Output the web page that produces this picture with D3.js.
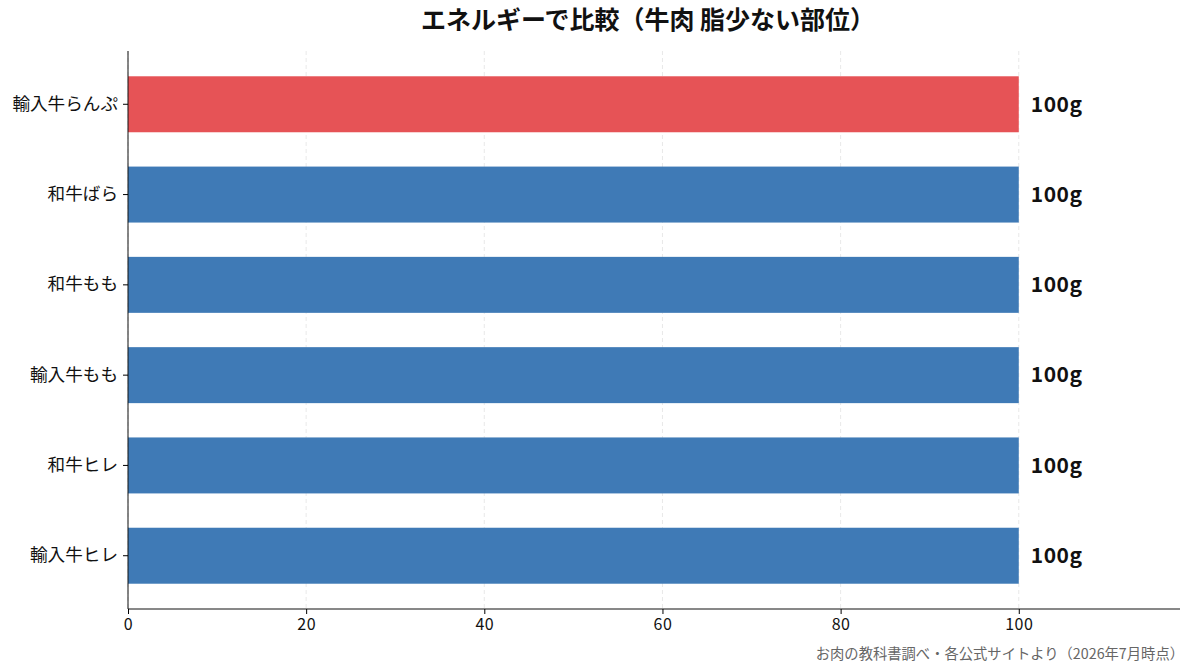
<!DOCTYPE html>
<html>
<head>
<meta charset="utf-8">
<script src="https://cdn.jsdelivr.net/npm/d3@7"></script>
<style>
  body { margin: 0; background: #fff; }
  svg { font-family: "Noto Sans CJK JP", "Noto Sans", sans-serif; }
</style>
</head>
<body>
<svg id="ch"></svg>
<script>
// エネルギー比較 横棒グラフ

const categories = ["輸入牛らんぷ", "和牛ばら", "和牛もも", "輸入牛もも", "和牛ヒレ", "輸入牛ヒレ"];
const values = [100, 100, 100, 100, 100, 100];
const labels = ["100g", "100g", "100g", "100g", "100g", "100g"];
const highlight = "輸入牛らんぷ";
const xTicks = [0, 20, 40, 60, 80, 100];

const width = 1193;
const height = 672;
const mLeft = 128, mRight = 1180, mTop = 51, mBottom = 609;

const svg = d3.select("#ch").attr("width", width).attr("height", height);

let x = d3.scaleLinear().domain([0, 118.1]).range([mLeft, mRight]);
let y = d3.scaleBand()
  .domain(categories)
  .range([mTop, mBottom])
  .paddingInner(0.38)
  .paddingOuter(0.28);

/* grid */
svg.append("g")
  .selectAll("line")
  .data(xTicks)
  .enter()
  .append("line")
  .attr("x1", d => x(d))
  .attr("x2", d => x(d))
  .attr("y1", mTop)
  .attr("y2", mBottom)
  .attr("stroke", "#e2e2e2")
  .attr("stroke-width", 0.8)
  .attr("stroke-dasharray", "4,3");

/* bars */
svg.append("g")
  .selectAll("rect")
  .data(categories)
  .enter()
  .append("rect")
  .attr("x", x(0))
  .attr("y", d => y(d))
  .attr("height", y.bandwidth())
  .attr("width", (d, i) => x(values[i]) - x(0))
  .style("fill", d => d === highlight ? "#e65356" : "#3f7ab6");

/* value labels */
svg.append("g")
  .selectAll("text")
  .data(categories)
  .enter()
  .append("text")
  .attr("x", (d, i) => x(values[i]) + 12)
  .attr("y", d => y(d) + y.bandwidth() / 2)
  .attr("dy", "0.35em")
  .style("font-size", "21px")
  .style("font-weight", "bold")
  .style("letter-spacing", "0.5px")
  .style("fill", "#111")
  .text((d, i) => labels[i]);

/* axes */
const xAxis = svg.append("g")
  .attr("transform", `translate(0,${mBottom})`)
  .call(d3.axisBottom(x).tickValues(xTicks).tickSize(5).tickPadding(5).tickSizeOuter(0));
xAxis.select(".domain").attr("d", `M${mLeft},0H${mRight}`).attr("stroke", "#111");
xAxis.selectAll("text").style("font-size", "16px").style("letter-spacing", "0.5px").style("fill", "#111").style("font-family", "Noto Sans CJK JP");

const yAxis = svg.append("g")
  .attr("transform", `translate(${mLeft},0)`)
  .call(d3.axisLeft(y).tickSize(5).tickPadding(5).tickSizeOuter(0));
yAxis.select(".domain").attr("d", `M0,${mTop}V${mBottom}`).attr("stroke", "#111");
yAxis.selectAll("text").style("font-size", "17.6px").style("fill", "#111").style("font-family", "Noto Sans CJK JP");

/* title */
svg.append("text")
  .attr("x", 648)
  .attr("y", 20)
  .attr("dy", "0.35em")
  .attr("text-anchor", "middle")
  .style("font-size", "25px")
  .style("font-weight", "bold")
  .style("fill", "#111")
  .text("エネルギーで比較（牛肉 脂少ない部位）");

/* source */
svg.append("text")
  .attr("x", 1184)
  .attr("y", 654)
  .attr("dy", "0.35em")
  .attr("text-anchor", "end")
  .style("font-size", "14.3px")
  .style("fill", "#666")
  .text("お肉の教科書調べ・各公式サイトより（2026年7月時点）");
</script>
</body>
</html>
